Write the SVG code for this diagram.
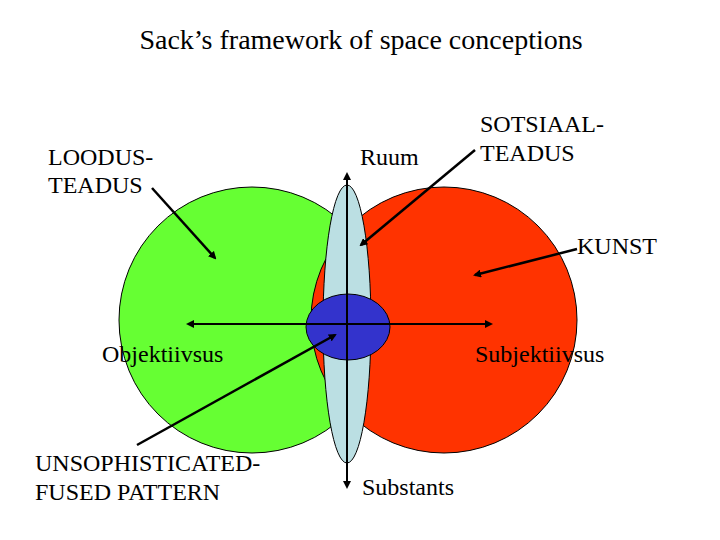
<svg xmlns="http://www.w3.org/2000/svg" width="720" height="540" viewBox="0 0 720 540">
<style>
text{font-family:'Liberation Serif','Times New Roman',serif;fill:#000;font-size:24px}
.ln{stroke:#000;stroke-width:2.5;fill:none}
.ax{stroke:#000;stroke-width:2;fill:none}
</style>
<defs>
<marker id="ah" markerWidth="8" markerHeight="8" refX="6" refY="4" orient="auto" markerUnits="userSpaceOnUse">
<path d="M0,0 L8,4 L0,8 Z" fill="#000"/>
</marker>
</defs>
<rect width="720" height="540" fill="#fff"/>
<text x="361" y="49" text-anchor="middle" style="font-size:28px">Sack’s framework of space conceptions</text>
<g id="green"><circle cx="252" cy="320" r="133" fill="#66FF33" stroke="#000" stroke-width="1"/></g>
<g id="red"><circle cx="444" cy="320" r="133" fill="#FF3300" stroke="#000" stroke-width="1"/></g>
<g id="space"><ellipse cx="347" cy="324" rx="24" ry="139" fill="#BBDFE3" stroke="#000" stroke-width="1"/></g>
<g id="fused"><ellipse cx="348" cy="327" rx="42" ry="33" fill="#3333CC" stroke="#000" stroke-width="1"/></g>
<g id="connectors">
<line class="ax" x1="347" y1="324" x2="347" y2="174" marker-end="url(#ah)"/>
<line class="ax" x1="347" y1="324" x2="347" y2="487" marker-end="url(#ah)"/>
<line class="ax" x1="347" y1="324" x2="188" y2="324" marker-end="url(#ah)"/>
<line class="ax" x1="347" y1="324" x2="491" y2="324" marker-end="url(#ah)"/>
<line class="ln" x1="152" y1="188" x2="215" y2="258" marker-end="url(#ah)"/>
<line class="ln" x1="475" y1="150" x2="361" y2="245" marker-end="url(#ah)"/>
<line class="ln" x1="577" y1="249" x2="475" y2="275" marker-end="url(#ah)"/>
<line class="ln" x1="137" y1="445" x2="335" y2="335" marker-end="url(#ah)"/>
</g>
<g id="labels">
<text x="48" y="165">LOODUS-</text>
<text x="48" y="193">TEADUS</text>
<text x="360" y="165">Ruum</text>
<text x="480" y="132">SOTSIAAL-</text>
<text x="480" y="161">TEADUS</text>
<text x="577" y="254">KUNST</text>
<text x="102" y="362">Objektiivsus</text>
<text x="475" y="362">Subjektiivsus</text>
<text x="35" y="471">UNSOPHISTICATED-</text>
<text x="35" y="500">FUSED PATTERN</text>
<text x="362" y="495">Substants</text>
</g>
</svg>
